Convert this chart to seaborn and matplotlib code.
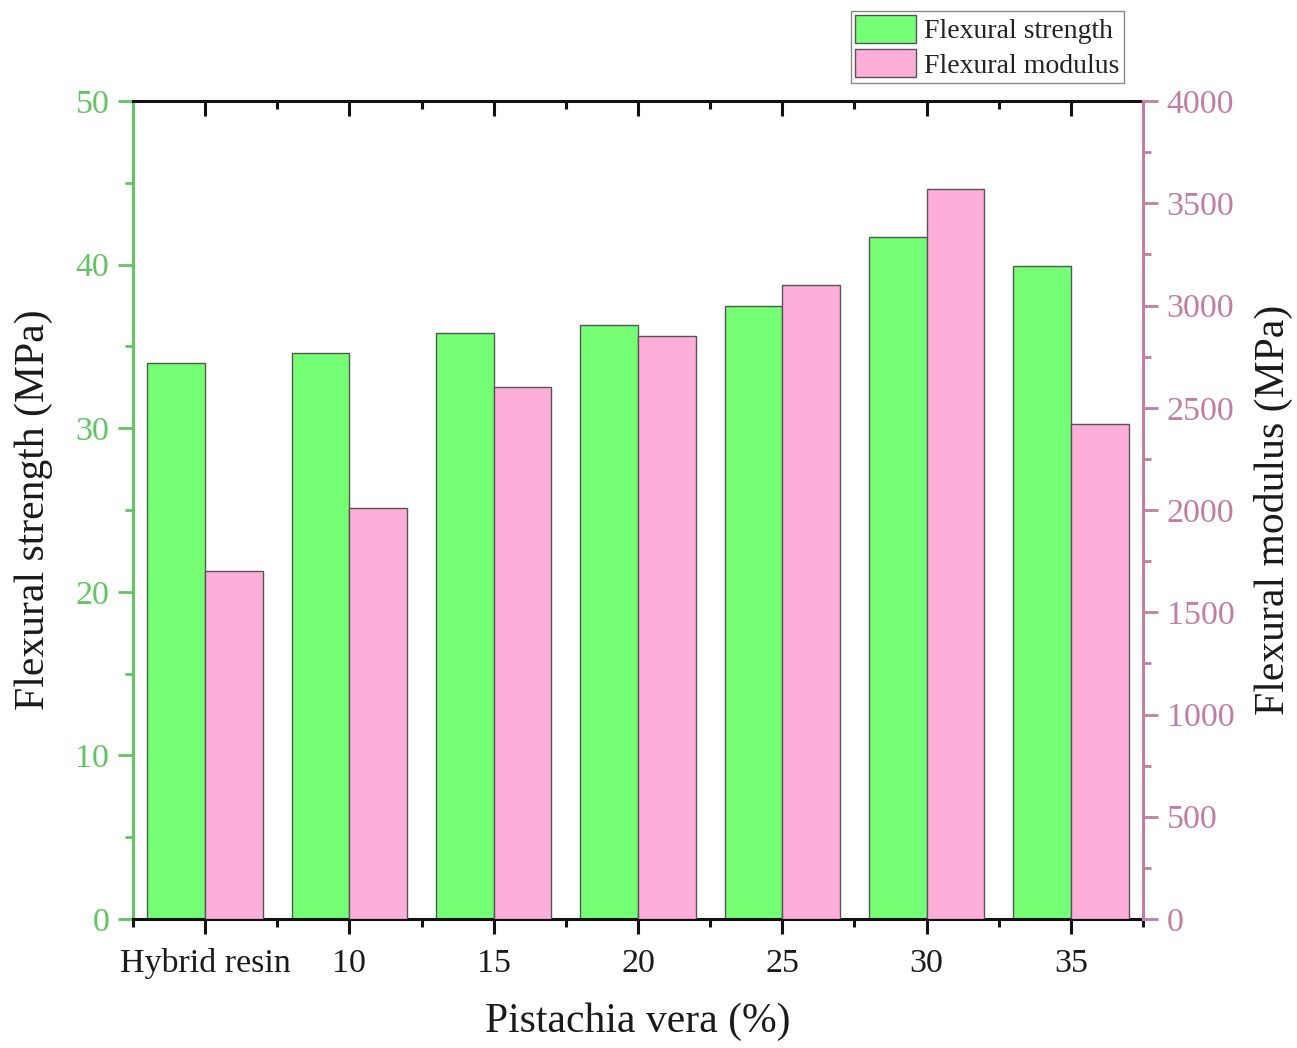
import numpy as np
import pandas as pd
import seaborn as sns
import matplotlib.pyplot as plt
from matplotlib.ticker import MultipleLocator, FixedLocator

# Data
categories = ["Hybrid resin", "10", "15", "20", "25", "30", "35"]
flexural_strength = [34.0, 34.6, 35.8, 36.3, 37.5, 41.7, 39.9]          # MPa
flexural_modulus = [1700, 2010, 2600, 2850, 3100, 3570, 2420]          # MPa
series_names = ["Flexural strength", "Flexural modulus"]

bar_colors = {"Flexural strength": "#74FF74", "Flexural modulus": "#FFADD9"}
left_color = "#62C462"
right_color = "#C07FA2"

sns.set_style("ticks")
plt.rcParams["font.family"] = ["Liberation Serif", "DejaVu Serif"]

n = len(categories)
strength_df = pd.DataFrame({
    "cat": categories * 2,
    "series": [series_names[0]] * n + [series_names[1]] * n,
    "value": list(flexural_strength) + [np.nan] * n,
})
modulus_df = pd.DataFrame({
    "cat": categories * 2,
    "series": [series_names[0]] * n + [series_names[1]] * n,
    "value": [np.nan] * n + list(flexural_modulus),
})

fig = plt.figure(figsize=(12.97, 10.48), dpi=100)
ax = fig.add_axes([0.1025, 0.1231, 0.7788, 0.7805])
ax2 = ax.twinx()

bar_kw = dict(x="cat", y="value", hue="series", hue_order=series_names,
              order=categories, palette=bar_colors, width=0.8,
              edgecolor="#555555", linewidth=1.0, errorbar=None, saturation=1)
sns.barplot(data=strength_df, ax=ax, legend=True, **bar_kw)
sns.barplot(data=modulus_df, ax=ax2, legend=False, **bar_kw)

ax.set_xlim(-0.5, n - 0.5)
ax.set_ylim(0, 50)
ax2.set_ylim(0, 4000)

# Left axis (strength)
ax.yaxis.set_major_locator(MultipleLocator(10))
ax.yaxis.set_minor_locator(MultipleLocator(5))
ax.tick_params(axis="y", which="major", direction="out", length=11, width=2,
               color=left_color, labelcolor=left_color, labelsize=24.5, pad=6)
ax.tick_params(axis="y", which="minor", direction="out", length=6, width=2,
               color=left_color)
ax.spines["left"].set_color(left_color)
ax.spines["left"].set_linewidth(2.2)

# Right axis (modulus)
ax2.yaxis.set_major_locator(MultipleLocator(500))
ax2.yaxis.set_minor_locator(MultipleLocator(250))
ax2.tick_params(axis="y", which="major", direction="out", length=11, width=2,
                color=right_color, labelcolor=right_color, labelsize=24.5, pad=6)
ax2.tick_params(axis="y", which="minor", direction="out", length=6, width=2,
                color=right_color)
ax2.spines["right"].set_color(right_color)
ax2.spines["right"].set_linewidth(2.2)
ax2.spines["left"].set_visible(False)
ax2.spines["top"].set_visible(False)
ax2.spines["bottom"].set_visible(False)

# Bottom axis
ax.xaxis.set_minor_locator(FixedLocator(np.arange(-0.5, n, 1.0)))
ax.tick_params(axis="x", which="major", direction="out", length=11, width=2.2,
               color="#111111", labelsize=24.5, labelcolor="#1a1a1a", pad=10)
ax.tick_params(axis="x", which="minor", direction="out", length=6, width=2.2,
               color="#111111")
for side in ("top", "bottom"):
    ax.spines[side].set_color("#111111")
    ax.spines[side].set_linewidth(2.2)
    ax.spines[side].set_visible(True)
ax.spines["right"].set_visible(False)

# Top axis: inward ticks, no labels
top = ax.secondary_xaxis("top")
top.set_xticks(range(n))
top.xaxis.set_minor_locator(FixedLocator(np.arange(0.5, n - 1, 1.0)))
top.tick_params(axis="x", which="major", direction="in", length=11, width=2.2,
                color="#111111", labeltop=False)
top.tick_params(axis="x", which="minor", direction="in", length=6, width=2.2,
                color="#111111")
top.spines["top"].set_visible(False)

ax.set_xlabel("Pistachia vera (%)", fontsize=30, color="#1a1a1a", labelpad=17)
ax.set_ylabel("Flexural strength (MPa)", fontsize=30, color="#1a1a1a", labelpad=16)
ax2.set_ylabel("Flexural modulus (MPa)", fontsize=30, color="#1a1a1a", labelpad=14)

sns.move_legend(ax, "upper right", bbox_to_anchor=(0.8666, 0.9895),
                bbox_transform=fig.transFigure, title=None, fontsize=20,
                frameon=True, fancybox=False, framealpha=1, edgecolor="#888888",
                borderpad=0.15, labelspacing=0.18, handlelength=2.2,
                handleheight=1.15, handletextpad=0.3, borderaxespad=0)
leg = ax.get_legend()
for t in leg.get_texts():
    t.set_color("#222222")
for h in leg.legend_handles:
    h.set_edgecolor("#555555")
    h.set_linewidth(1.0)

fig.savefig("out.png", dpi=100)
